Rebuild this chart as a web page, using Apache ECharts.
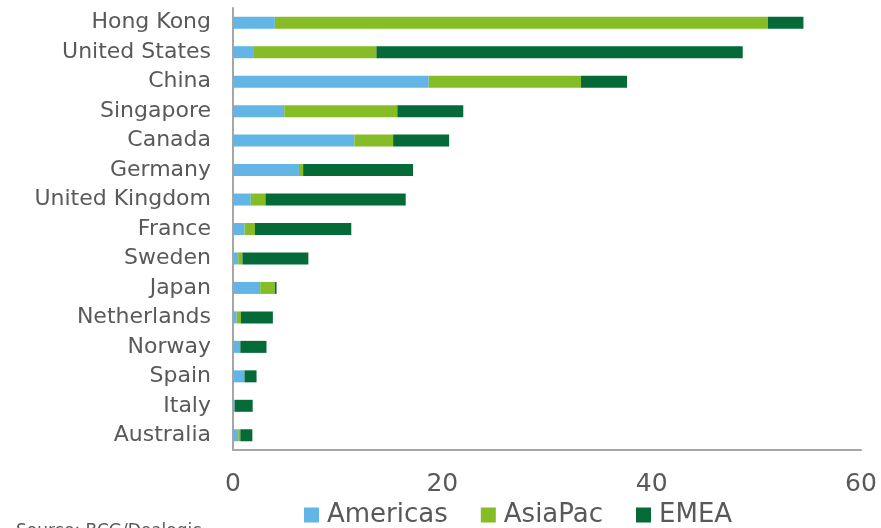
<!DOCTYPE html>
<html>
<head>
<meta charset="utf-8">
<script src="https://cdn.jsdelivr.net/npm/echarts@6/dist/echarts.min.js"></script>
<style>
html,body{margin:0;padding:0;background:#fff;}
#chart{width:881px;height:528px;}
</style>
</head>
<body>
<div id="chart"></div>
<script>
var categories = ["Hong Kong","United States","China","Singapore","Canada","Germany","United Kingdom","France","Sweden","Japan","Netherlands","Norway","Spain","Italy","Australia"];
var americas = [4.0, 2.0, 18.7, 4.9, 11.6, 6.3, 1.7, 1.1, 0.5, 2.6, 0.35, 0.7, 1.1, 0.15, 0.5];
var asiaPac  = [47.1, 11.7, 14.55, 10.8, 3.7, 0.4, 1.4, 1.0, 0.4, 1.4, 0.4, 0, 0, 0, 0.2];
var emea     = [3.4, 35.0, 4.4, 6.3, 5.35, 10.5, 13.4, 9.2, 6.3, 0.16, 3.06, 2.5, 1.15, 1.73, 1.15];
var xTicks = {min: 0, max: 60, interval: 20};
var sourceText = "Source: BCG/Dealogic";

var colors = ["#62B5E5", "#86BC25", "#046A38"];
var txt = "#595959";
var font = "DejaVu Sans";

var chart = echarts.init(document.getElementById('chart'));
function s(name, data, c) {
  return {name: name, type: 'bar', stack: 'total', data: data, barWidth: 12,
          itemStyle: {color: c}, emphasis: {disabled: true}};
}
chart.setOption({
  animation: false,
  textStyle: {fontFamily: font},
  grid: {left: 233, right: 20, top: 8, bottom: 78, containLabel: false},
  legend: {
    top: 502, left: 304, padding: 0, itemGap: 33, itemWidth: 15, itemHeight: 15,
    icon: 'rect',
    textStyle: {color: txt, fontSize: 26, fontFamily: font, padding: [0, 0, 0, 3]},
    data: ["Americas", "AsiaPac", "EMEA"]
  },
  xAxis: {
    type: 'value', min: xTicks.min, max: xTicks.max, interval: xTicks.interval,
    axisLine: {show: true, lineStyle: {color: '#A6A6A6', width: 2}},
    axisTick: {show: false},
    splitLine: {show: false},
    axisLabel: {color: txt, fontSize: 25, fontFamily: font, margin: 22}
  },
  yAxis: {
    type: 'category', data: categories, inverse: true,
    axisLine: {show: true, lineStyle: {color: '#A6A6A6', width: 2}},
    axisTick: {show: false},
    axisLabel: {color: txt, fontSize: 22, fontFamily: font, margin: 22}
  },
  graphic: [{
    type: 'text', left: 16, top: 523,
    style: {text: sourceText, fill: txt, font: '17px ' + font}
  }],
  series: [
    s("Americas", americas, colors[0]),
    s("AsiaPac", asiaPac, colors[1]),
    s("EMEA", emea, colors[2])
  ]
});
</script>
</body>
</html>
